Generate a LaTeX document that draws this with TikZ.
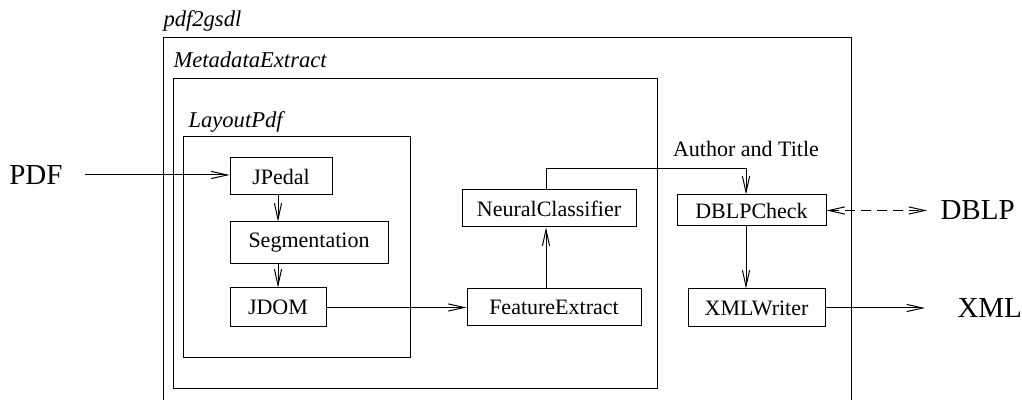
\documentclass[tikz,border=0pt]{standalone}
\usepackage{fontspec}
\setmainfont{Liberation Serif}
\usepackage{tikz}
\usetikzlibrary{arrows.meta}
\usetikzlibrary{calc}

\begin{document}
\begin{tikzpicture}[x=0.5pt, y=-0.5pt, line width=0.5pt,
    >={Straight Barb[length=8pt,width=3.6pt]},
    main/.style = {draw, inner sep=0pt, font=\fontsize{11}{13}\selectfont},
    part/.style = {inner sep=0pt, anchor=base west, font=\fontsize{11.3}{13}\selectfont\itshape},
    ext/.style = {inner sep=3pt, font=\fontsize{14.5}{17}\selectfont}]
  \clip (0,0) rectangle (1022,400);

    % Frames
    \draw (163,38) rectangle (851,420);
    \draw (173,79) rectangle (657,389);
    \draw (183,137) rectangle (410,358);
    \node[part] (pdfgsdl) at (163,27) {pdf2gsdl};
    \node[part] (metaext) at (173,68) {MetadataExtract};
    \node[part] (laypdf) at (188,128) {LayoutPdf};

    % Nodes
    \node[main, minimum width=51pt, minimum height=18.5pt] (jpedal) at (281,176.5) {JPedal};
    \node[main, minimum width=79pt, minimum height=21pt] (seg) at (309,243) {Segmentation};
    \node[main, minimum width=48pt, minimum height=19.5pt] (jdom) at (278,307.5) {JDOM};
    \node[main, minimum width=87pt, minimum height=18.5pt] (feat) at (554,307.5) {FeatureExtract};
    \node[main, minimum width=87pt, minimum height=18.5pt] (neural) at (549,208.5) {NeuralClassifier};
    \node[main, minimum width=74.5pt, minimum height=15.5pt] (dblpchk) at (751.5,210.5) {DBLPCheck};
    \node[main, minimum width=68.5pt, minimum height=19pt] (xmlw) at (756.5,308) {XMLWriter};

    \node[ext, anchor=east] (pdf) at (69,175) {PDF};
    \node[ext, anchor=west] (dblp) at (934,210.5) {DBLP};
    \node[ext, anchor=west] (xml) at (951,308) {XML};

    \coordinate (auth) at (746,169);
    \node[font=\fontsize{11}{13}\selectfont, anchor=base] (authlbl) at (746,157) {Author and Title};

    % Edges
    \draw[->, shorten <=8pt] (pdf.east) -- (jpedal.west |- pdf.east);
    \draw[->] (jpedal.south -| jdom.center) -- (seg.north -| jdom.center);
    \draw[->] (seg.south -| jdom.center) -- (jdom.north);
    \draw[->] (jdom.east) -- (feat.west);
    \draw[->] ($(feat.north)+(-8,0)$) -- ($(neural.south)+(-3,0)$);
    \draw[->] ($(neural.north)+(-3,0)$) |- (auth) -- (auth |- dblpchk.north);
    \draw[->] (auth |- dblpchk.south) -- (auth |- xmlw.north);
    \draw[<->, dashed, dash pattern=on 5pt off 3pt, shorten >=3.5pt] (dblpchk.east) -- (dblp.west);
    \draw[->, shorten >=13pt] (xmlw.east) -- (xml.west);

\end{tikzpicture}
\end{document}
